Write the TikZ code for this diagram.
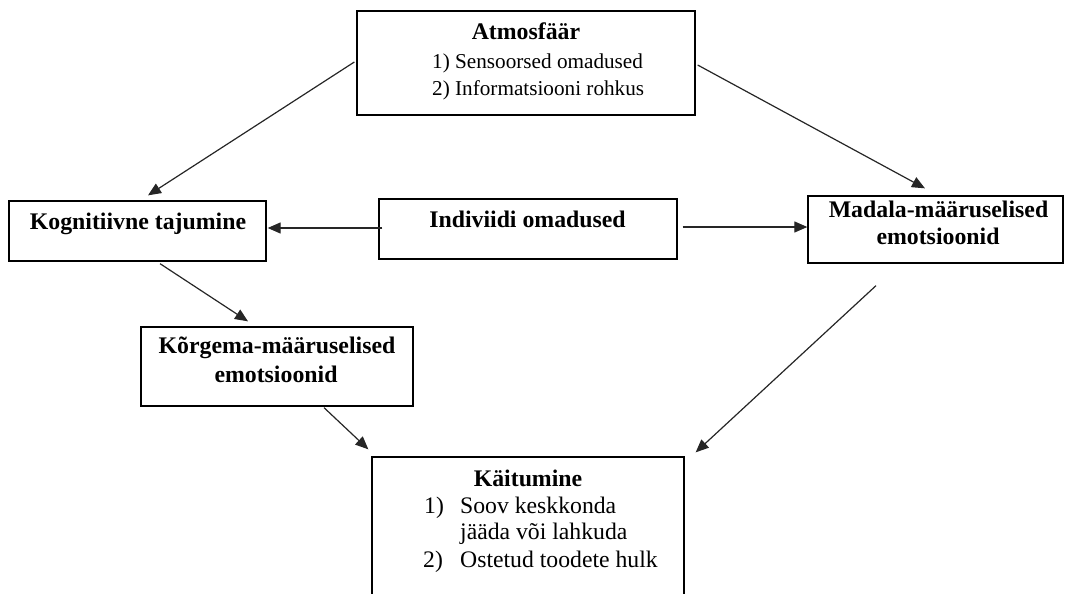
\documentclass[tikz,border=0pt]{standalone}
\usepackage{fontspec}
\setmainfont{Liberation Serif}
\usetikzlibrary{arrows.meta,calc}

\tikzset{
  box/.style={draw, line width=1.3pt, rectangle, inner sep=0pt},
  hd/.style={inner sep=0pt, anchor=base, font=\fontsize{23.8}{28}\selectfont\bfseries},
  itsmall/.style={inner sep=0pt, anchor=base west, font=\fontsize{21.2}{26}\selectfont},
  itlarge/.style={inner sep=0pt, anchor=base west, font=\fontsize{23.7}{28}\selectfont},
  arr/.style={line width=1.2pt, draw=black!85, -{Triangle[length=13pt,width=11pt]}}
}

\begin{document}
\begin{tikzpicture}[x=1pt,y=-1pt]
  \useasboundingbox (0,0) rectangle (1065,594);
  \clip (0,0) rectangle (1065,594);

  % boxes
  \node[box, minimum width=338pt, minimum height=104pt] (atm) at (526,63) {};
  \node[box, minimum width=257pt, minimum height=60pt]  (kog) at (137.5,231) {};
  \node[box, minimum width=298pt, minimum height=60pt]  (ind) at (528,229) {};
  \node[box, minimum width=255pt, minimum height=67pt]  (mad) at (935.5,229.5) {};
  \node[box, minimum width=272pt, minimum height=79pt]  (kor) at (277,366.5) {};
  \node[box, minimum width=312pt, minimum height=200pt] (kai) at (528,557) {};

  % texts
  \node[hd] (atmh) at (526,40) {Atmosfäär};
  \node[itsmall] (atm1) at (432,68) {1) Sensoorsed omadused};
  \node[itsmall] (atm2) at (432,95) {2) Informatsiooni rohkus};

  \node[hd] (kogh) at (138,229) {Kognitiivne tajumine};
  \node[hd] (indh) at (527.5,227) {Indiviidi omadused};

  \node[hd] (madh1) at (938.5,217) {Madala-määruselised};
  \node[hd] (madh2) at (938,244) {emotsioonid};

  \node[hd] (korh1) at (277,353) {Kõrgema-määruselised};
  \node[hd] (korh2) at (276,382) {emotsioonid};

  \node[hd] (kaih) at (528,486) {Käitumine};
  \node[itlarge] (kain1) at (424,513) {1)};
  \node[itlarge] (kai1a) at (460,513) {Soov keskkonda};
  \node[itlarge] (kai1b) at (460,539) {jääda või lahkuda};
  \node[itlarge] (kain2) at (423,567) {2)};
  \node[itlarge] (kai2) at (460,567) {Ostetud toodete hulk};

  % connectors
  \draw[arr] ($(atm.west)+(-2,-1)$) -- ($(kog.north)+(10.5,-5)$);
  \draw[arr] ($(atm.east)+(2,2)$) -- ($(mad.north)+(-10.5,-7)$);
  \draw[arr] ($(ind.west)+(4,-1)$) -- ($(kog.east)+(1,-3)$);
  \draw[arr] ($(ind.east)+(5,-2)$) -- ($(mad.west)+(0,-2.5)$);
  \draw[arr] ($(kog.south)+(22.5,2)$) -- ($(kor.north)+(-29,-5)$);
  \draw[arr] ($(mad.south)+(-59.5,22)$) -- ($(kai.north east)+(11,-4)$);
  \draw[arr] ($(kor.south)+(47,1)$) -- ($(kai.north west)+(-3,-7)$);
\end{tikzpicture}
\end{document}
